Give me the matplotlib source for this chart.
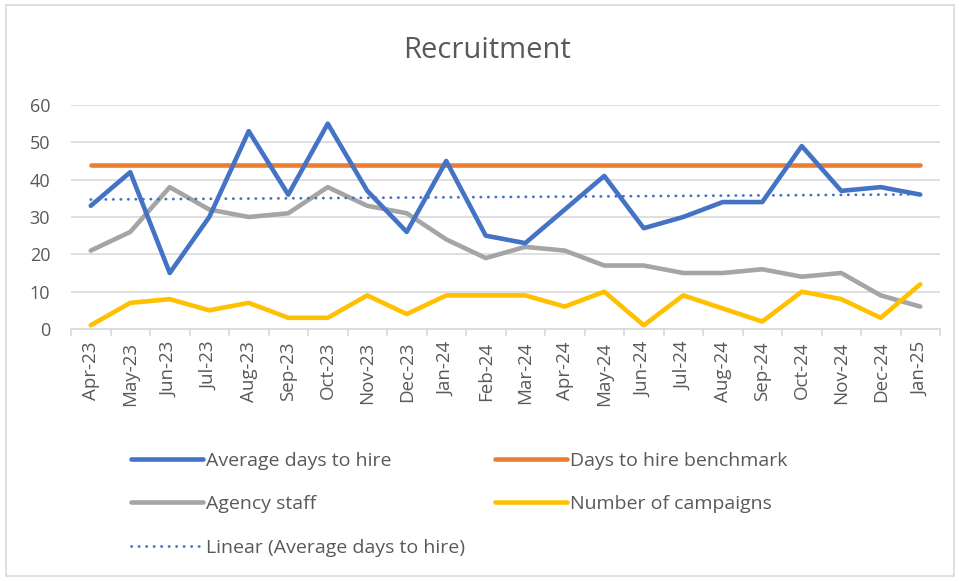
import numpy as np
import matplotlib
matplotlib.use("Agg")
import matplotlib.pyplot as plt
from matplotlib.patches import Rectangle

plt.rcParams['font.family'] = ['Open Sans', 'DejaVu Sans']

months = ["Apr-23", "May-23", "Jun-23", "Jul-23", "Aug-23", "Sep-23", "Oct-23", "Nov-23",
          "Dec-23", "Jan-24", "Feb-24", "Mar-24", "Apr-24", "May-24", "Jun-24", "Jul-24",
          "Aug-24", "Sep-24", "Oct-24", "Nov-24", "Dec-24", "Jan-25"]
avg_days = [33, 42, 15, 30, 53, 36, 55, 37, 26, 45, 25, 23, 32, 41, 27, 30, 34, 34, 49, 37, 38, 36]
benchmark = [44] * 22
agency = [21, 26, 38, 32, 30, 31, 38, 33, 31, 24, 19, 22, 21, 17, 17, 15, 15, 16, 14, 15, 9, 6]
campaigns = [1, 7, 8, 5, 7, 3, 3, 9, 4, 9, 9, 9, 6, 10, 1, 9, 5.5, 2, 10, 8, 3, 12]
yticks = [0, 10, 20, 30, 40, 50, 60]

W, H = 959, 581
fig = plt.figure(figsize=(W / 100, H / 100), dpi=100)
fig.patches.append(Rectangle((6 / W, 5 / H), 948 / W, 571 / H, transform=fig.transFigure,
                             fill=False, edgecolor='#d9d9d9', lw=1.2))

ax = fig.add_axes([71 / W, 1 - 329 / H, (940 - 71) / W, (329 - 105) / H])
x = np.arange(len(months))

c_blue = '#4472c4'
c_orange = '#ed7d31'
c_grey = '#a5a5a5'
c_yellow = '#ffc000'
lw = 3.3

coef = np.polyfit(x, avg_days, 1)
trend = np.polyval(coef, x)

l1, = ax.plot(x, avg_days, color=c_blue, lw=lw, solid_capstyle='round', solid_joinstyle='round', zorder=5)
l2, = ax.plot(x, benchmark, color=c_orange, lw=lw, solid_capstyle='round', zorder=4)
l3, = ax.plot(x, agency, color=c_grey, lw=lw, solid_capstyle='round', solid_joinstyle='round', zorder=3)
l4, = ax.plot(x, campaigns, color=c_yellow, lw=lw, solid_capstyle='round', solid_joinstyle='round', zorder=3)
l5, = ax.plot(x, trend, color=c_blue, lw=2.0, linestyle=(0, (0.1, 2.6)), dash_capstyle='round', zorder=6)

ax.set_xlim(-0.5, len(months) - 0.5)
ax.set_ylim(0, 60)
ax.set_yticks(yticks)
ax.grid(axis='y', color='#d9d9d9', lw=1.2)
ax.set_axisbelow(True)
for s in ['top', 'right', 'left']:
    ax.spines[s].set_visible(False)
ax.spines['bottom'].set_color('#d9d9d9')
ax.spines['bottom'].set_linewidth(1.2)
ax.tick_params(axis='y', length=0, labelsize=13, labelcolor='#595959', pad=15)
ax.set_xticks(x)
ax.set_xticklabels(months, rotation=90)
ax.tick_params(axis='x', which='major', length=0, labelsize=13.5, labelcolor='#595959', pad=9)
ax.set_xticks(np.arange(-0.5, len(months), 1.0), minor=True)
ax.tick_params(axis='x', which='minor', length=5, color='#d9d9d9', width=1.2)

fig.text(487 / W, 1 - 51 / H, "Recruitment", ha='center', va='center', fontsize=21, color='#595959')

leg_kw = dict(frameon=False, fontsize=14, handlelength=3.7, handletextpad=0.15,
              labelspacing=1.3, borderaxespad=0, borderpad=0, labelcolor='#595959')
leg1 = fig.legend([l1, l3, l5], ["Average days to hire", "Agency staff", "Linear (Average days to hire)"],
                  loc='upper left', bbox_to_anchor=(131 / W, 1 - 452 / H), **leg_kw)
leg2 = fig.legend([l2, l4], ["Days to hire benchmark", "Number of campaigns"],
                  loc='upper left', bbox_to_anchor=(495 / W, 1 - 452 / H), **leg_kw)

fig.savefig("out.png", dpi=100)
